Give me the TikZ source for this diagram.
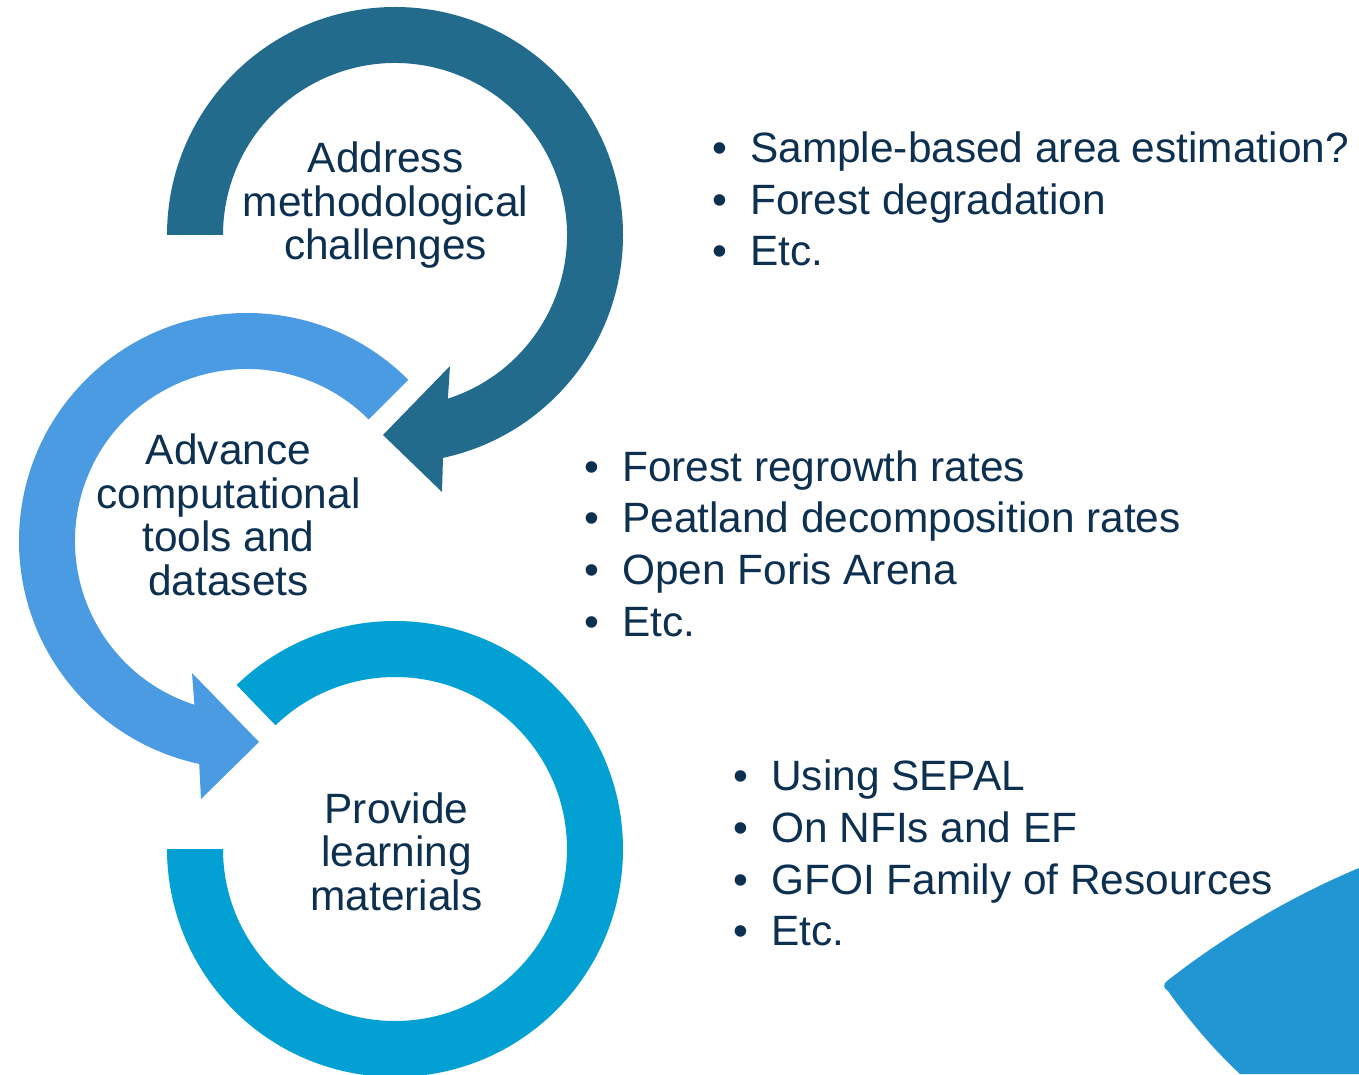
\documentclass[tikz,border=0pt]{standalone}
\usepackage{fontspec}
\setmainfont{Liberation Sans}
\usetikzlibrary{calc}
\definecolor{ringA}{HTML}{236B8C}
\definecolor{ringB}{HTML}{4A9BE1}
\definecolor{ringC}{HTML}{02A0D3}
\definecolor{blobc}{HTML}{2196D3}
\definecolor{ink}{HTML}{0E3050}
\begin{document}
\begin{tikzpicture}[x=1pt,y=1pt,
  circtext/.style={text=ink, align=center, anchor=base, inner sep=0pt, font=\fontsize{42.4}{43.5}\selectfont},
  bulletdot/.style={text=ink, anchor=base, inner sep=0pt, font=\fontsize{42.4}{51.5}\selectfont},
  bulletitem/.style={text=ink, anchor=base west, inner sep=0pt, font=\fontsize{42.4}{51.5}\selectfont}]
\fill[white] (0,0) rectangle (1359,1074);
\useasboundingbox (0,0) rectangle (1359,1074);

\coordinate (c1) at (395,839);
\coordinate (c2) at (247,533);
\coordinate (c3) at (395,225);

% ring 1 (dark) with arrow head
\fill[ringA] ($(c1)+(180:228)$) arc[start angle=180, end angle=-77.85, radius=228]
  -- (442,582) -- (383,639) -- (450,708)
  -- ($(c1)+(-72.1:172)$) arc[start angle=-72.1, end angle=180, radius=172] -- cycle;

% ring 2 (light blue) with arrow head
\fill[ringB] ($(c2)+(45:228)$) arc[start angle=45, end angle=257.9, radius=228]
  -- (201,275) -- (259,332) -- (192,401)
  -- ($(c2)+(252.2:172)$) arc[start angle=252.2, end angle=45, radius=172] -- cycle;

% ring 3 (cyan)
\fill[ringC] ($(c3)+(134:228)$) arc[start angle=134, end angle=-180, radius=228]
  -- ($(c3)+(180:172)$) arc[start angle=-180, end angle=134, radius=172] -- cycle;

% corner shape
\fill[blobc] (1359,206) .. controls (1290,177) and (1226,139) .. (1167,93)
  .. controls (1163,90) and (1163,86) .. (1168,83)
  .. controls (1188,55) and (1213,25) .. (1240,0) -- (1359,0) -- cycle;

% circle texts (base = last line baseline)
\node[circtext] (t1) at (385.5,814) {Address\\methodological\\challenges};
\node[circtext] (t2) at (228.5,478.5) {Advance\\computational\\tools and\\datasets};
\node[circtext] (t3) at (396.5,164) {Provide\\learning\\materials};

% bullets group 1
\node[bulletdot] (d1a) at (720,911) {•};
\node[bulletitem] (i1a) at (750,911) {Sample-based area estimation?};
\node[bulletdot] (d1b) at (720,859.5) {•};
\node[bulletitem] (i1b) at (750,859.5) {Forest degradation};
\node[bulletdot] (d1c) at (720,808) {•};
\node[bulletitem] (i1c) at (750,808) {Etc.};

% bullets group 2
\node[bulletdot] (d2a) at (592,592) {•};
\node[bulletitem] (i2a) at (622,592) {Forest regrowth rates};
\node[bulletdot] (d2b) at (592,541) {•};
\node[bulletitem] (i2b) at (622,541) {Peatland decomposition rates};
\node[bulletdot] (d2c) at (592,489) {•};
\node[bulletitem] (i2c) at (622,489) {Open Foris Arena};
\node[bulletdot] (d2d) at (592,437) {•};
\node[bulletitem] (i2d) at (622,437) {Etc.};

% bullets group 3
\node[bulletdot] (d3a) at (741,284) {•};
\node[bulletitem] (i3a) at (771,284) {Using SEPAL};
\node[bulletdot] (d3b) at (741,232) {•};
\node[bulletitem] (i3b) at (771,232) {On NFIs and EF};
\node[bulletdot] (d3c) at (741,180) {•};
\node[bulletitem] (i3c) at (771,180) {GFOI Family of Resources};
\node[bulletdot] (d3d) at (741,129) {•};
\node[bulletitem] (i3d) at (771,129) {Etc.};
\end{tikzpicture}
\end{document}
